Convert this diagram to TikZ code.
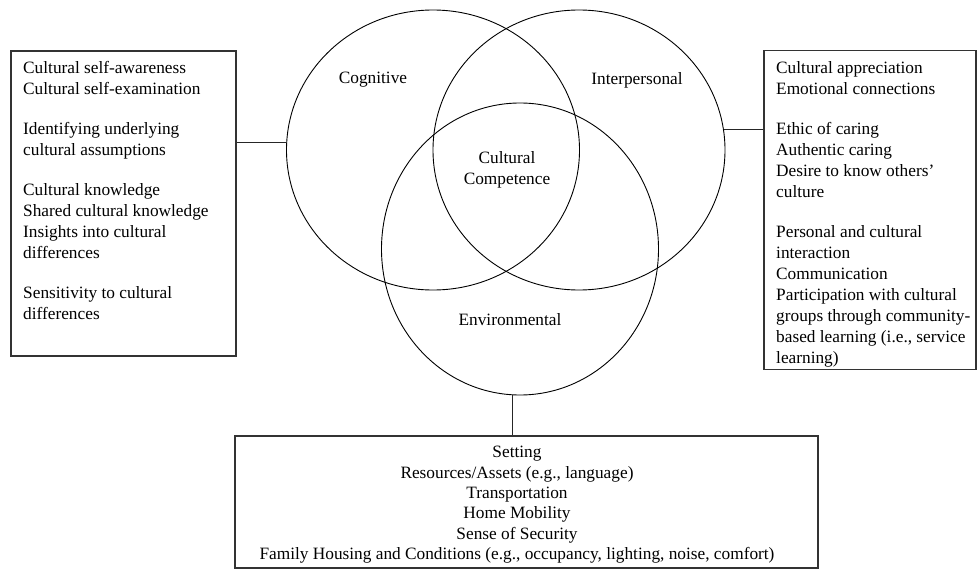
\documentclass[tikz,border=0pt]{standalone}
\usepackage{fontspec}
\setmainfont{Liberation Serif}
\usetikzlibrary{shapes.geometric}
\begin{document}
\begin{tikzpicture}[x=1pt,y=-1pt,
        ring/.style={draw=black, line width=0.9pt, ellipse, inner sep=0pt},
        box/.style={draw=black!80, line width=1.4pt, rectangle, inner sep=0pt},
        link/.style={draw=black!85, line width=1.4pt},
        label/.style={font=\fontsize{17.3}{21}\selectfont, align=center},
        list/.style={font=\fontsize{17.3}{21}\selectfont, inner sep=0pt}]
            \useasboundingbox (0,0) rectangle (978,570);
            % the three circles
            \node[ring, minimum width=293pt, minimum height=280pt] (cog) at (433,150) {};
            \node[ring, minimum width=292pt, minimum height=280pt] (inter) at (579,150) {};
            \node[ring, minimum width=277pt, minimum height=292pt] (env) at (520,249) {};
            \node[label] (coglabel) at (373,80) {Cognitive};
            \node[label] (interlabel) at (637,80) {Interpersonal};
            \node[label] (core) at (507,170) {Cultural\\Competence};
            \node[label] (envlabel) at (510,320) {Environmental};
            % the boxes
            \node[box, minimum width=225pt, minimum height=305pt] (cogbox) at (123.5,203.5) {};
            \node[box, minimum width=212pt, minimum height=319pt] (interbox) at (870,210) {};
            \node[box, minimum width=583pt, minimum height=132pt] (envbox) at (526.5,502) {};
            \node[list, anchor=north west, align=left] (cogtext) at (23,61) {Cultural self-awareness\\
                Cultural self-examination\\[19pt]
                Identifying underlying\\
                cultural assumptions\\[19pt]
                Cultural knowledge\\
                Shared cultural knowledge\\
                Insights into cultural\\
                differences\\[19pt]
                Sensitivity to cultural\\
                differences};
            \node[list, anchor=north west, align=left] (intertext) at (776,61) {Cultural appreciation\\
                Emotional connections\\[19pt]
                Ethic of caring\\
                Authentic caring\\
                Desire to know others'\\
                culture\\[19pt]
                Personal and cultural\\
                interaction\\
                Communication\\
                Participation with cultural\\
                groups through community-\\
                based learning (i.e., service\\
                learning)};
            \node[list, anchor=north, align=center, font=\fontsize{17.3}{20.4}\selectfont] (envtext) at (517,446) {Setting\\
                Resources/Assets (e.g., language)\\
                Transportation\\
                Home Mobility\\
                Sense of Security\\
                Family Housing and Conditions (e.g., occupancy, lighting, noise, comfort)};
            % links between circles and boxes
            \draw[link] (cog.177) -- (cog.177 -| cogbox.east);
            \draw[link] (inter.8) -- (inter.8 -| interbox.west);
            \draw[link] (env.267) -- (env.267 |- envbox.north);
        \end{tikzpicture}
\end{document}
